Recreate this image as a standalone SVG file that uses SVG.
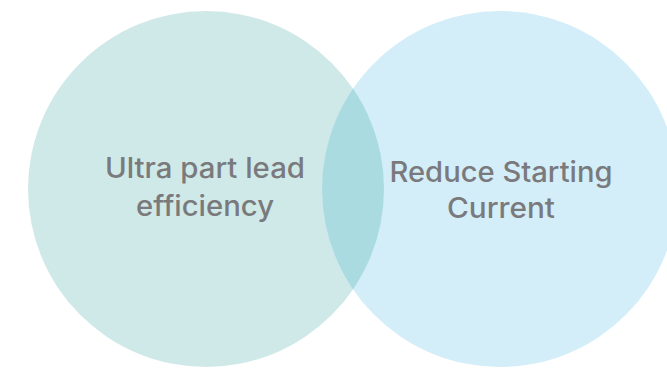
<svg xmlns="http://www.w3.org/2000/svg" width="667" height="368" viewBox="0 0 667 368">
<style>
.lbl{font-family:Inter,"Open Sans","Liberation Sans",sans-serif;font-size:28px;font-weight:500;fill:#7a7a7d;text-anchor:middle}
</style>
<defs>
<clipPath id="clipL"><circle cx="206" cy="189" r="178"/></clipPath>
</defs>
<rect width="667" height="368" fill="#ffffff"/>
<g id="circle-left">
<circle cx="206" cy="189" r="178" fill="#cfe9e8"/>
</g>
<g id="circle-right">
<circle cx="500" cy="189" r="178" fill="#d3eef8"/>
</g>
<g id="overlap">
<circle cx="500" cy="189" r="178" fill="#aadbe1" clip-path="url(#clipL)"/>
</g>
<g id="label-left">
<text class="lbl" x="205" y="178" textLength="200" lengthAdjust="spacingAndGlyphs">Ultra part lead</text>
<text class="lbl" x="205" y="216" textLength="138" lengthAdjust="spacingAndGlyphs">efficiency</text>
</g>
<g id="label-right">
<text class="lbl" x="501" y="182" textLength="223" lengthAdjust="spacingAndGlyphs">Reduce Starting</text>
<text class="lbl" x="501" y="218" textLength="108" lengthAdjust="spacingAndGlyphs">Current</text>
</g>
<g id="connectors"></g>
</svg>
